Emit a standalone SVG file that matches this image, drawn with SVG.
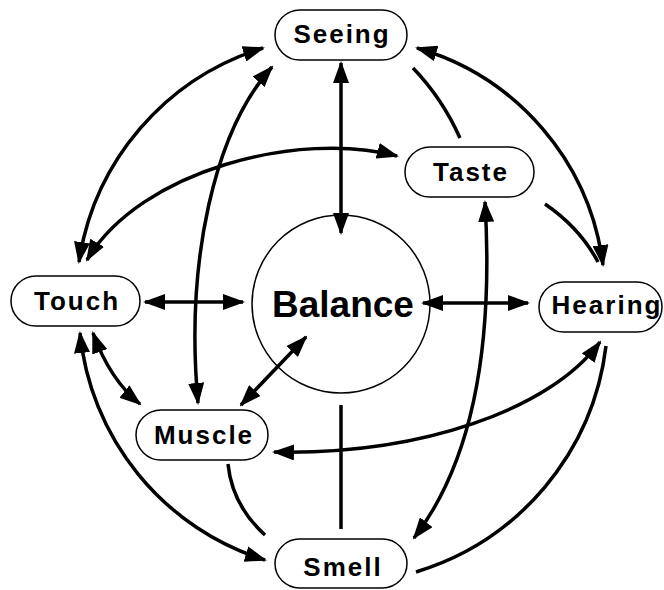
<svg xmlns="http://www.w3.org/2000/svg" width="664" height="590" viewBox="0 0 664 590">
<style>
.pill{fill:#fff;stroke:#000;stroke-width:1.5}
.lbl{font-family:"Liberation Sans",Arial,sans-serif;font-weight:bold;font-size:26px;letter-spacing:2px;text-anchor:middle;fill:#000}
.c{fill:none;stroke:#000;stroke-width:3.5}
.a{marker-start:url(#ah);marker-end:url(#ah)}
</style>
<defs>
<marker id="ah" viewBox="0 0 22 16" refX="20" refY="8" markerWidth="22" markerHeight="16" markerUnits="userSpaceOnUse" orient="auto-start-reverse">
<path d="M0,0 L22,8 L0,16 z" fill="#000"/>
</marker>
</defs>
<g id="connectors">
<path class="c a" d="M341,63 L341,233"/>
<path class="c a" d="M145,302 L243,302"/>
<path class="c a" d="M423,303 L528,303"/>
<path class="c a" d="M306,337 L241,405"/>
<path class="c" d="M341,405 L341,529"/>
<path class="c" d="M413,68 Q442,98 460,138"/>
<path class="c" d="M545,204 Q580,228 598,262"/>
<path class="c" d="M228,464 Q232,505 265,535"/>
<path class="c a" d="M263,48 A265,265 0 0 0 79,262"/>
<path class="c a" d="M417,48 A260,260 0 0 1 603,265"/>
<path class="c a" d="M80,333 A265,265 0 0 0 265,560"/>
<path class="c" d="M606,346 A270,270 0 0 1 416,572"/>
<path class="c a" d="M87,260 C140,170 300,130 397,156"/>
<path class="c a" d="M272,67 C215,130 185,260 198,403"/>
<path class="c a" d="M485,202 C492,320 482,450 414,538"/>
<path class="c a" d="M600,342 C550,410 420,455 274,452"/>
<path class="c a" d="M93,333 Q110,380 140,404"/>
</g>
<g id="balance">
<circle cx="341" cy="304" r="89" fill="none" stroke="#000" stroke-width="1.5"/>
<text x="343" y="317" font-family="'Liberation Sans',Arial,sans-serif" font-weight="bold" font-size="37" text-anchor="middle">Balance</text>
</g>
<g id="seeing"><rect class="pill" x="275" y="10" width="132" height="50" rx="25"/><text class="lbl" x="342" y="43">Seeing</text></g>
<g id="taste"><rect class="pill" x="405" y="147" width="129" height="50" rx="25"/><text class="lbl" x="471" y="181">Taste</text></g>
<g id="touch"><rect class="pill" x="11" y="276" width="129" height="50" rx="25"/><text class="lbl" x="77" y="310">Touch</text></g>
<g id="hearing"><rect class="pill" x="539" y="282" width="123" height="50" rx="25"/><text class="lbl" x="607" y="314">Hearing</text></g>
<g id="muscle"><rect class="pill" x="136" y="410" width="132" height="50" rx="25"/><text class="lbl" x="204" y="444">Muscle</text></g>
<g id="smell"><rect class="pill" x="275" y="539" width="132" height="49" rx="24.5"/><text class="lbl" x="343" y="576">Smell</text></g>
</svg>
